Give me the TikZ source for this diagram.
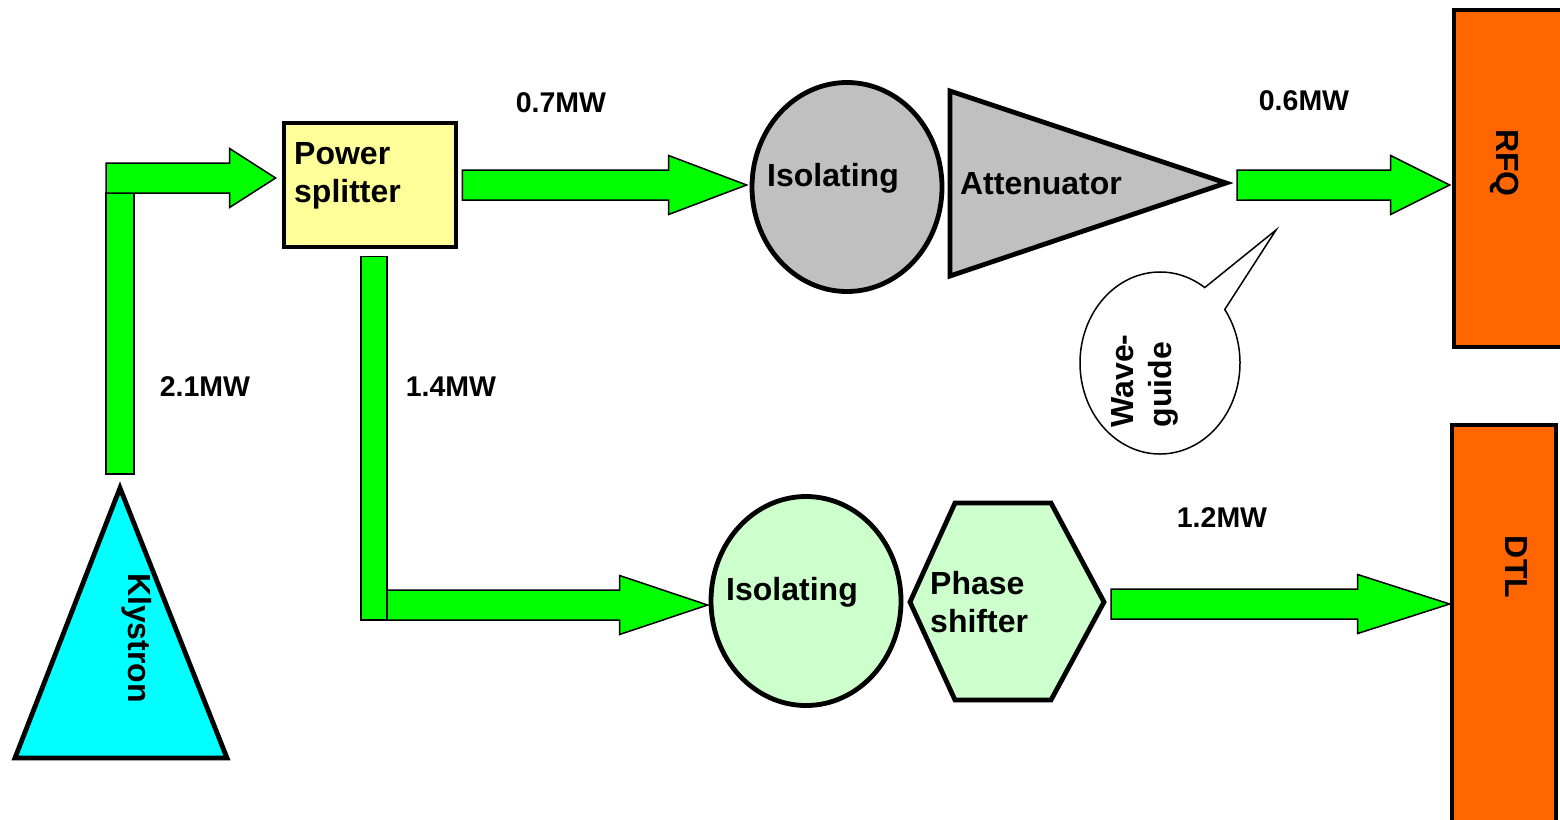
\documentclass[tikz,border=0pt]{standalone}
\usepackage{fontspec}
\setmainfont{Liberation Sans}
\usetikzlibrary{shapes.geometric, calc, positioning}
\definecolor{flowgreen}{HTML}{00FF00}
\definecolor{splityellow}{HTML}{FFFF99}
\definecolor{isogray}{HTML}{C0C0C0}
\definecolor{isogreen}{HTML}{CCFFCC}
\definecolor{cavorange}{HTML}{FF6600}
\definecolor{klycyan}{HTML}{00FFFF}

% block arrow along the tail's height: tail, tip, head length
\newcommand{\flowarrow}[3]{%
  \draw[flow] let \p1=(#1), \p2=(#2) in
    (\x1,{\y1+15pt}) -- ({\x2-#3pt},{\y1+15pt}) -- ({\x2-#3pt},{\y1+29.5pt})
    -- (\x2,\y1) -- ({\x2-#3pt},{\y1-29.5pt}) -- ({\x2-#3pt},{\y1-15pt})
    -- (\x1,{\y1-15pt}) -- cycle;}

\begin{document}
\begin{tikzpicture}[x=1pt, y=1pt,
  font=\fontsize{32}{38}\selectfont\bfseries,
  part/.style={draw=black, line width=4.8pt, line join=miter},
  flow/.style={draw=black, line width=1.5pt, fill=flowgreen},
  splitbox/.style={part, rectangle, fill=splityellow, minimum width=172, minimum height=124, inner sep=0},
  isolator/.style={part, ellipse, minimum width=190, minimum height=209, inner sep=0},
  cavity/.style={part, rectangle, fill=cavorange, inner sep=0},
  txt/.style={inner sep=0, align=left},
  power/.style={inner sep=0, font=\fontsize{28.5}{34}\selectfont\bfseries}
]
  \useasboundingbox (0,0) rectangle (1560,-819);

  \draw[part, fill=klycyan] (120,-488) -- (227,-758) -- (15,-758) -- cycle;
  \coordinate (kly) at (120,-488);
  \node[txt, rotate=-90] (klyTxt) at (137,-638) {Klystron};

  \node[splitbox] (split) at (370,-185) {};
  \node[txt, anchor=west] (splitTxt) at (294,-176) {Power\\splitter};

  \node[isolator, fill=isogray] (iso1) at (847,-187) {};
  \node[txt] (iso1Txt) at (833,-178) {Isolating};
  \draw[part, fill=isogray] (950,-91) -- (1226,-183) -- (950,-276) -- cycle;
  \coordinate (attTip) at (1230,-183);
  \node[txt] (attTxt) at (1041,-184) {Attenuator};

  \node[cavity, minimum width=121, minimum height=337] (rfq) at (1514.5,-178.5) {};
  \node[txt, rotate=-90] (rfqTxt) at (1505,-163) {RFQ};

  \node[isolator, fill=isogreen] (iso2) at (806,-601) {};
  \node[txt] (iso2Txt) at (792,-592) {Isolating};
  \draw[part, fill=isogreen] (910,-602) -- (955,-503) -- (1051,-503) -- (1104,-602)
    -- (1051,-700) -- (955,-700) -- cycle;
  \coordinate (hexTip) at (1107,-602);
  \node[txt, anchor=west] (phaseTxt) at (930,-602) {Phase\\shifter};

  \node[cavity, minimum width=104, minimum height=415] (dtl) at (1504,-632.5) {};
  \node[txt, rotate=-90] (dtlTxt) at (1516,-567) {DTL};

  % waveguide runs
  \coordinate (feed) at (106,-178);
  \draw[flow] ($(kly)+(-14,14)$) rectangle ($(feed)+(28,-15)$);
  \flowarrow{feed}{$(split.west |- feed)+(-6,0)$}{46}
  \flowarrow{$(split.east)+(4,0)$}{$(iso1.west)+(-3,0)$}{78}
  \flowarrow{$(attTip)+(7,-2)$}{$(rfq.west)+(-2,0)$}{59}
  \coordinate (bend) at (387,-605);
  \flowarrow{bend}{$(iso2.west)+(-1,0)$}{88}
  \draw[flow] ($(split.south)+(-9,-7)$) rectangle ($(bend)+(0,-15)$);
  \flowarrow{$(hexTip)+(4,-2)$}{dtl.west}{92}

  % callout
  \coordinate (wgC) at (1160,-363);
  \coordinate (wgTip) at (1276,-230);
  \draw[line width=1.5pt, fill=white] ($(wgC)+(56:80 and 91)$)
    arc[start angle=56, end angle=396, x radius=80, y radius=91] -- (wgTip) -- cycle;
  \node[txt, rotate=90] (wgTxt) at (1145,-381) {Wave-\\guide};

  \node[power] (p21) at (205,-387) {2.1MW};
  \node[power] (p14) at (451,-387) {1.4MW};
  \node[power] (p07) at (561,-103) {0.7MW};
  \node[power] (p06) at (1304,-101) {0.6MW};
  \node[power] (p12) at (1222,-518) {1.2MW};
\end{tikzpicture}
\end{document}
